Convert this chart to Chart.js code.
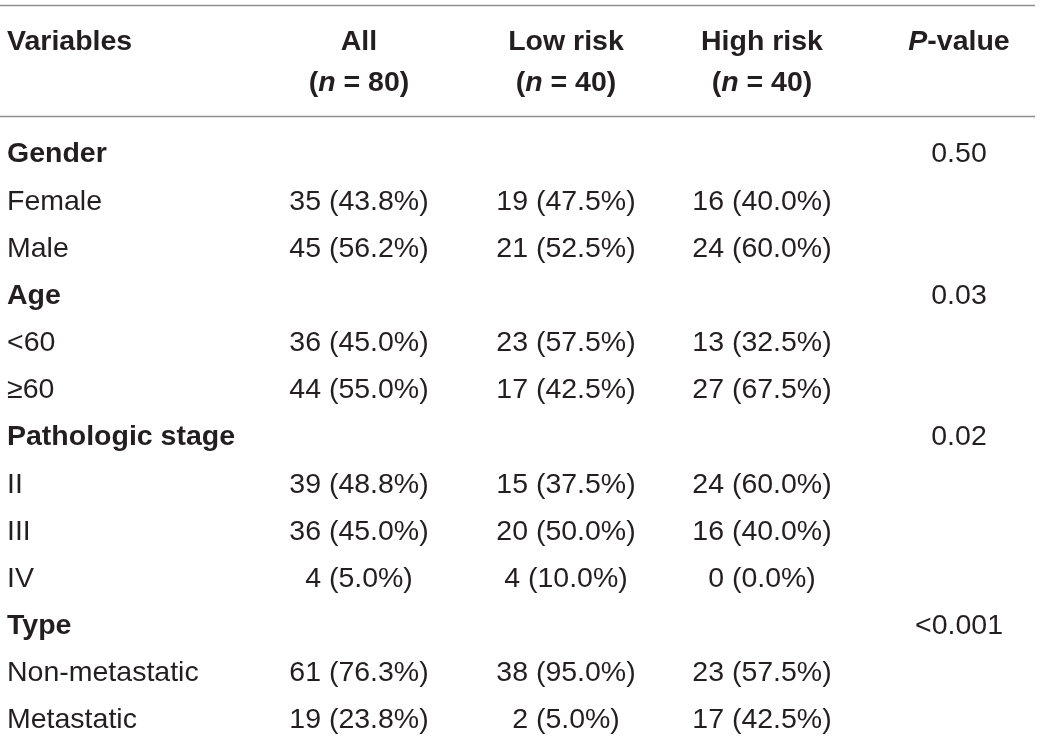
<!DOCTYPE html>
<html>
<head>
<meta charset="utf-8">
<script src="https://cdn.jsdelivr.net/npm/chart.js@4.4.1/dist/chart.umd.min.js"></script>
<style>
  html, body { margin: 0; padding: 0; background: #ffffff; }
  #wrap { width: 1040px; height: 741px; }
</style>
</head>
<body>
<div id="wrap"><canvas id="table"></canvas></div>
<script>
// Table des caractéristiques cliniques, dessinée comme un nuage de points invisibles
// dont chaque point porte son texte.

const variables = ['Gender', 'Female', 'Male', 'Age', '<60', '≥60', 'Pathologic stage', 'II', 'III', 'IV', 'Type', 'Non-metastatic', 'Metastatic'];
const isGroup   = [true, false, false, true, false, false, true, false, false, false, true, false, false];

const groupNames = ['All', 'Low risk', 'High risk'];
const groupSizes = [80, 40, 40];

const allCounts  = [null, 35, 45, null, 36, 44, null, 39, 36, 4, null, 61, 19];
const allPct     = [null, 43.8, 56.2, null, 45.0, 55.0, null, 48.8, 45.0, 5.0, null, 76.3, 23.8];
const lowCounts  = [null, 19, 21, null, 23, 17, null, 15, 20, 4, null, 38, 2];
const lowPct     = [null, 47.5, 52.5, null, 57.5, 42.5, null, 37.5, 50.0, 10.0, null, 95.0, 5.0];
const highCounts = [null, 16, 24, null, 13, 27, null, 24, 16, 0, null, 23, 17];
const highPct    = [null, 40.0, 60.0, null, 32.5, 67.5, null, 60.0, 40.0, 0.0, null, 57.5, 42.5];
const pValues    = ['0.50', null, null, '0.03', null, null, '0.02', null, null, null, '<0.001', null, null];

// --- mise en page ---
const colX      = [7, 359, 566, 762, 959];    // ancrage de chaque colonne (px)
const headLine1 = -2.374;                      // en unités de ligne
const headLine2 = -1.505;
const rules     = [-3.138, -0.784];
const textColor = '#231f20';
const ruleColor = '#8f8f8f';
const fam       = '"Liberation Sans", Arial, Helvetica, sans-serif';
const size      = 28.5;

const cell = (counts, pct) => counts.map((n, i) => n === null ? null : `${n} (${pct[i].toFixed(1)}%)`);

const columns = [
  { texts: variables, align: 'left' },
  { texts: cell(allCounts, allPct), align: 'center' },
  { texts: cell(lowCounts, lowPct), align: 'center' },
  { texts: cell(highCounts, highPct), align: 'center' },
  { texts: pValues, align: 'center' },
];

const datasets = columns.map((col, c) => ({
  data: col.texts.map((t, i) => (t === null ? null : { x: colX[c], y: i, text: t, bold: c === 0 && isGroup[i] })).filter(Boolean),
  align: col.align,
  pointRadius: 0,
  pointHoverRadius: 0,
}));

// en-têtes : segments [texte, style]
const headers = [
  { x: colX[0], align: 'left', lines: [[['Variables', 'bold']]] },
  ...groupNames.map((g, k) => ({
    x: colX[k + 1], align: 'center',
    lines: [[[g, 'bold']], [['(', 'bold'], ['n', 'italic bold'], [` = ${groupSizes[k]})`, 'bold']]],
  })),
  { x: colX[4], align: 'center', lines: [[['P', 'italic bold'], ['-value', 'bold']]] },
];

function drawSegments(ctx, segs, x, y, align) {
  let total = 0;
  segs.forEach(([t, st]) => { ctx.font = `${st} ${size}px ${fam}`; total += ctx.measureText(t).width; });
  let cx = align === 'center' ? x - total / 2 : x;
  ctx.textAlign = 'left';
  segs.forEach(([t, st]) => {
    ctx.font = `${st} ${size}px ${fam}`;
    ctx.fillText(t, cx, y);
    cx += ctx.measureText(t).width;
  });
}

const tablePlugin = {
  id: 'tableText',
  afterDatasetsDraw(chart) {
    const { ctx, scales: { x, y } } = chart;
    ctx.save();
    ctx.fillStyle = textColor;
    ctx.textBaseline = 'middle';

    // filets horizontaux
    ctx.strokeStyle = ruleColor;
    ctx.lineWidth = 1.6;
    rules.forEach(r => {
      const py = Math.round(y.getPixelForValue(r)) + 0.5;
      ctx.beginPath();
      ctx.moveTo(0, py);
      ctx.lineTo(1035, py);
      ctx.stroke();
    });

    // en-têtes
    headers.forEach(h => {
      h.lines.forEach((segs, li) => {
        drawSegments(ctx, segs, x.getPixelForValue(h.x), y.getPixelForValue(li === 0 ? headLine1 : headLine2) + 1, h.align);
      });
    });

    // cellules
    chart.data.datasets.forEach((ds, di) => {
      const meta = chart.getDatasetMeta(di);
      meta.data.forEach((pt, i) => {
        const d = ds.data[i];
        ctx.font = `${d.bold ? 'bold' : 'normal'} ${size}px ${fam}`;
        ctx.textAlign = ds.align;
        ctx.fillText(d.text, pt.x, pt.y + 1.5);
      });
    });
    ctx.restore();
  },
};

new Chart(document.getElementById('table'), {
  type: 'scatter',
  data: { datasets },
  plugins: [tablePlugin],
  options: {
    responsive: true,
    maintainAspectRatio: false,
    animation: false,
    events: [],
    layout: { padding: 0 },
    plugins: { legend: { display: false }, tooltip: { enabled: false } },
    scales: {
      x: { type: 'linear', display: false, min: 0, max: 1040 },
      y: { type: 'linear', display: false, reverse: true, min: -3.2436, max: 12.466 },
    },
  },
});
</script>
</body>
</html>
